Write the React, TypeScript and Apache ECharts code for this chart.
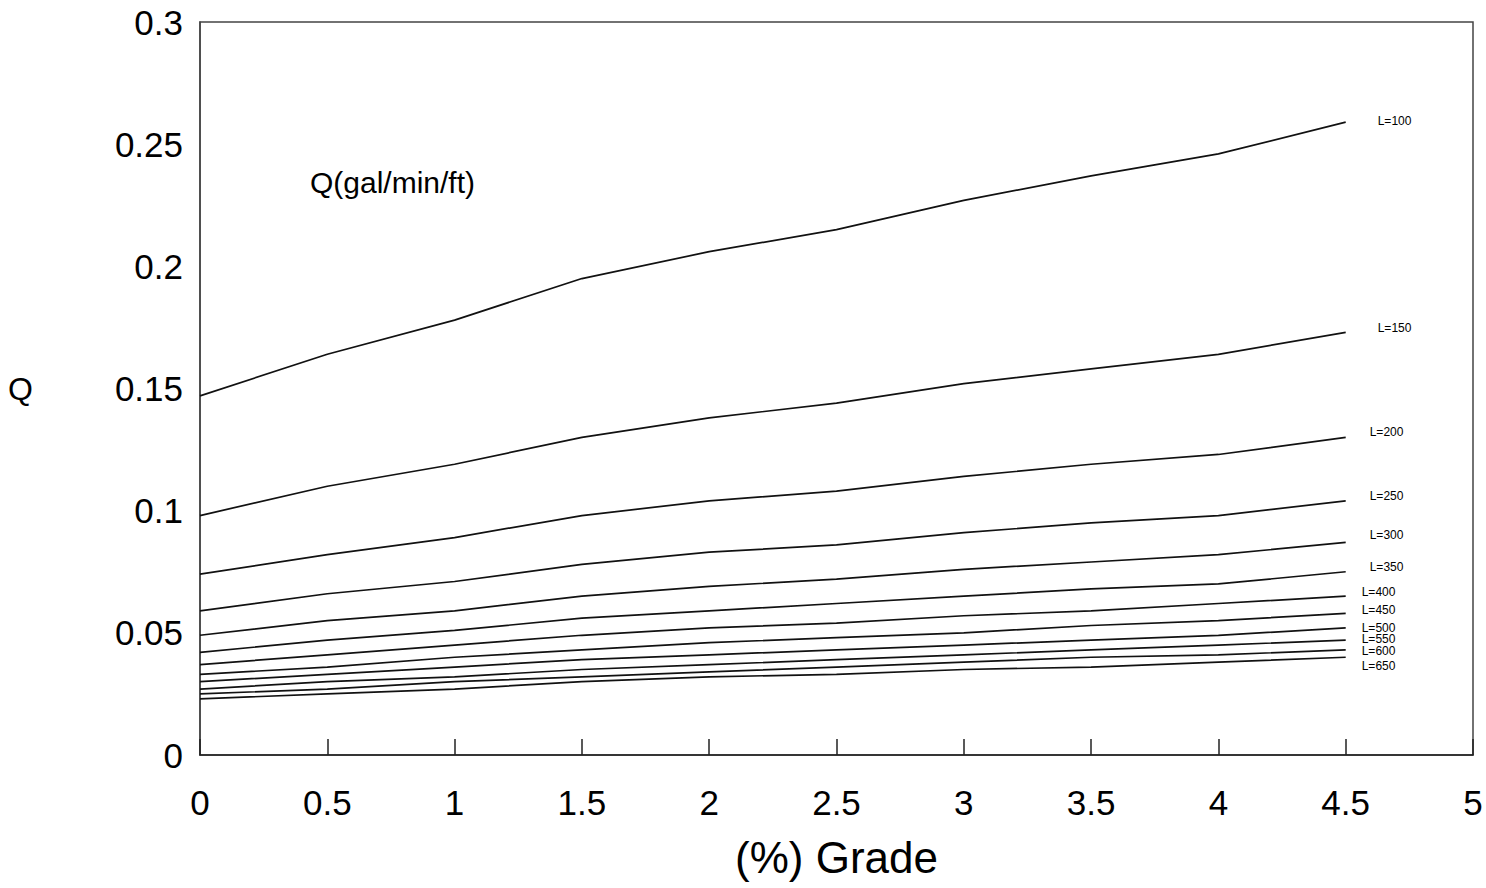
import React, { useEffect, useRef } from "react";
import * as echarts from "echarts";

const grades = [0, 0.5, 1, 1.5, 2, 2.5, 3, 3.5, 4, 4.5];
const lengths = ["L=100", "L=150", "L=200", "L=250", "L=300", "L=350", "L=400", "L=450", "L=500", "L=550", "L=600", "L=650"];

const qL100 = [0.147, 0.164, 0.178, 0.195, 0.206, 0.215, 0.227, 0.237, 0.246, 0.259];
const qL150 = [0.098, 0.110, 0.119, 0.130, 0.138, 0.144, 0.152, 0.158, 0.164, 0.173];
const qL200 = [0.074, 0.082, 0.089, 0.098, 0.104, 0.108, 0.114, 0.119, 0.123, 0.130];
const qL250 = [0.059, 0.066, 0.071, 0.078, 0.083, 0.086, 0.091, 0.095, 0.098, 0.104];
const qL300 = [0.049, 0.055, 0.059, 0.065, 0.069, 0.072, 0.076, 0.079, 0.082, 0.087];
const qL350 = [0.042, 0.047, 0.051, 0.056, 0.059, 0.062, 0.065, 0.068, 0.070, 0.075];
const qL400 = [0.037, 0.041, 0.045, 0.049, 0.052, 0.054, 0.057, 0.059, 0.062, 0.065];
const qL450 = [0.033, 0.036, 0.040, 0.043, 0.046, 0.048, 0.050, 0.053, 0.055, 0.058];
const qL500 = [0.030, 0.033, 0.036, 0.039, 0.041, 0.043, 0.045, 0.047, 0.049, 0.052];
const qL550 = [0.027, 0.030, 0.032, 0.035, 0.037, 0.039, 0.041, 0.043, 0.045, 0.047];
const qL600 = [0.025, 0.027, 0.030, 0.032, 0.034, 0.036, 0.038, 0.040, 0.041, 0.043];
const qL650 = [0.023, 0.025, 0.027, 0.030, 0.032, 0.033, 0.035, 0.036, 0.038, 0.040];

const seriesValues = [qL100, qL150, qL200, qL250, qL300, qL350, qL400, qL450, qL500, qL550, qL600, qL650];

const xTicks = [0, 0.5, 1, 1.5, 2, 2.5, 3, 3.5, 4, 4.5, 5];
const yTicks = [0, 0.05, 0.1, 0.15, 0.2, 0.25, 0.3];

// label offsets [dx, dy] relative to default end label position
const labelOffsets = [
  [24, -1], [24, -4], [16, -5], [16, -5], [16, -7], [16, -5],
  [8, -4], [8, -3], [8, 0], [8, -1], [8, 1], [8, 9],
];

const FONT = "'Liberation Sans', Arial, Helvetica, sans-serif";

export default function App() {
  const ref = useRef<HTMLDivElement>(null);
  useEffect(() => {
    document.body.style.margin = "0";
    const chart = echarts.init(ref.current!, null, { renderer: "svg" });
    chart.setOption({
      animation: false,
      backgroundColor: "#ffffff",
      grid: {
        left: 200,
        top: 22,
        right: 13,
        bottom: 133,
        show: true,
        borderColor: "#444",
        borderWidth: 1.5,
        backgroundColor: "transparent",
        outerBoundsMode: "none",
        containLabel: false,
      },
      xAxis: {
        type: "value",
        min: 0,
        max: 5,
        interval: 0.5,
        name: "(%) Grade",
        nameLocation: "middle",
        nameGap: 80,
        nameTextStyle: { fontSize: 44, color: "#000", fontFamily: FONT },
        axisLine: { show: true, lineStyle: { color: "#222", width: 1.5 } },
        axisTick: { show: true, inside: true, length: 16, lineStyle: { color: "#222", width: 1.5 } },
        axisLabel: {
          fontSize: 35,
          color: "#000",
          fontFamily: FONT,
          margin: 30,
          formatter: (v: number) => (xTicks.includes(v) ? String(v) : ""),
        },
        splitLine: { show: false },
      },
      yAxis: {
        type: "value",
        min: 0,
        max: 0.3,
        interval: 0.05,
        name: "Q",
        nameLocation: "middle",
        nameRotate: 0,
        nameGap: 167,
        nameTextStyle: { fontSize: 32, color: "#000", fontFamily: FONT },
        axisLine: { show: true, lineStyle: { color: "#444", width: 1.5 } },
        axisTick: { show: false },
        axisLabel: {
          fontSize: 35,
          color: "#000",
          fontFamily: FONT,
          margin: 17,
          formatter: (v: number) => {
            const r = Math.round(v * 100) / 100;
            return yTicks.includes(r) ? String(r) : "";
          },
        },
        splitLine: { show: false },
      },
      graphic: [
        {
          type: "text",
          left: 310,
          top: 167,
          style: {
            text: "Q(gal/min/ft)",
            fontSize: 30,
            fontFamily: FONT,
            fill: "#000",
          },
        },
      ],
      series: seriesValues.map((vals, i) => ({
        type: "line",
        name: lengths[i],
        data: vals.map((v, j) => [grades[j], v]),
        showSymbol: false,
        symbol: "none",
        lineStyle: { color: "#111", width: 1.7 },
        endLabel: {
          show: true,
          formatter: lengths[i],
          fontSize: 12,
          fontFamily: FONT,
          color: "#000",
          offset: labelOffsets[i],
        },
        z: 2,
      })),
    });
    return () => chart.dispose();
  }, []);
  return <div ref={ref} style={{ width: 1486, height: 888 }} />;
}
